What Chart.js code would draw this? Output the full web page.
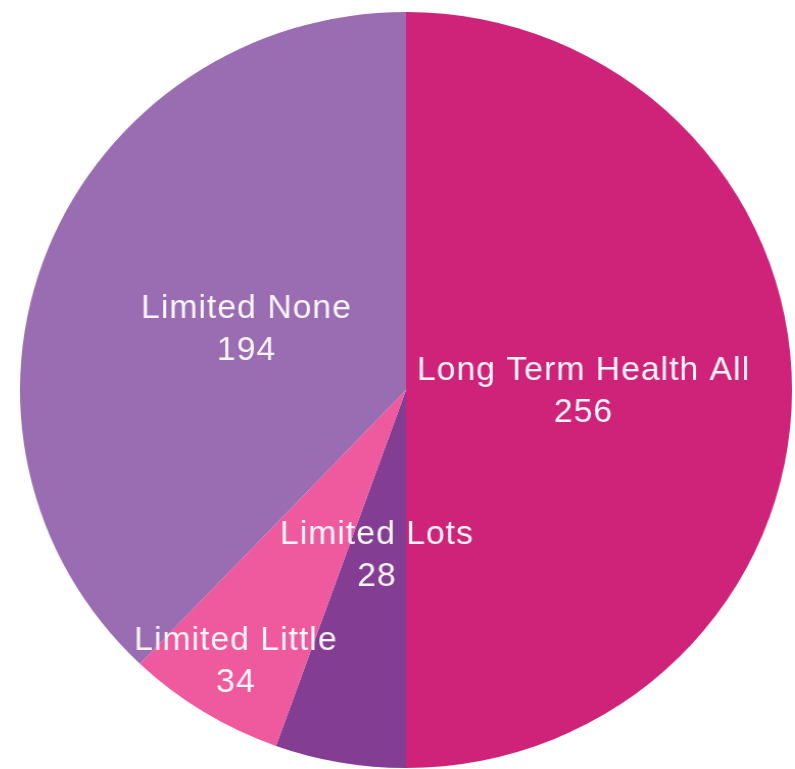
<!DOCTYPE html>
<html>
<head>
<meta charset="utf-8">
<title>Long term health pie</title>
<script src="https://cdn.jsdelivr.net/npm/chart.js@4/dist/chart.umd.min.js"></script>
<style>
  html, body { margin: 0; padding: 0; background: #fff; overflow: hidden; }
  body { width: 795px; height: 769px; position: relative; }
  #pie { position: absolute; left: 20px; top: 12px; }
</style>
</head>
<body>
<!-- drawn at 756x756, shown a little wider like the source image -->
<canvas id="pie" width="756" height="756" style="width:772px;height:756px"></canvas>
<script>
// slices clockwise from 12 o'clock
const categories = ["Long Term Health All", "Limited Lots", "Limited Little", "Limited None"];
const counts = [256, 28, 34, 194];
const sliceColors = ["#cf2379", "#833d92", "#ee5a9d", "#9a6cb1"];
// how far out (fraction of radius) each label sits
const labelRadius = [0.46, 0.44, 0.84, 0.445];

const sliceLabels = {
  id: "sliceLabels",
  afterDatasetsDraw(chart) {
    const ctx = chart.ctx;
    const meta = chart.getDatasetMeta(0);
    ctx.save();
    ctx.font = "33px 'Liberation Sans', Arial, sans-serif";
    ctx.letterSpacing = "1px";
    ctx.fillStyle = "#fbf6fb";
    ctx.textAlign = "center";
    ctx.textBaseline = "alphabetic";
    meta.data.forEach((arc, i) => {
      const p = arc.getProps(["x", "y", "startAngle", "endAngle", "outerRadius"], true);
      const mid = (p.startAngle + p.endAngle) / 2;
      const r = p.outerRadius * labelRadius[i];
      const cx = p.x + Math.cos(mid) * r;
      const cy = p.y + Math.sin(mid) * r;
      ctx.fillText(categories[i], cx, cy - 10);
      ctx.fillText(String(counts[i]), cx, cy + 32);
    });
    ctx.restore();
  },
};

new Chart(document.getElementById("pie"), {
  type: "pie",
  data: {
    labels: categories,
    datasets: [{
      data: counts,
      backgroundColor: sliceColors,
      borderWidth: 0,
      offset: 0,
      hoverOffset: 0,
    }],
  },
  options: {
    responsive: false,
    animation: false,
    events: [],
    layout: { padding: 0 },
    plugins: {
      legend: { display: false },
      tooltip: { enabled: false },
    },
  },
  plugins: [sliceLabels],
});
</script>
</body>
</html>
